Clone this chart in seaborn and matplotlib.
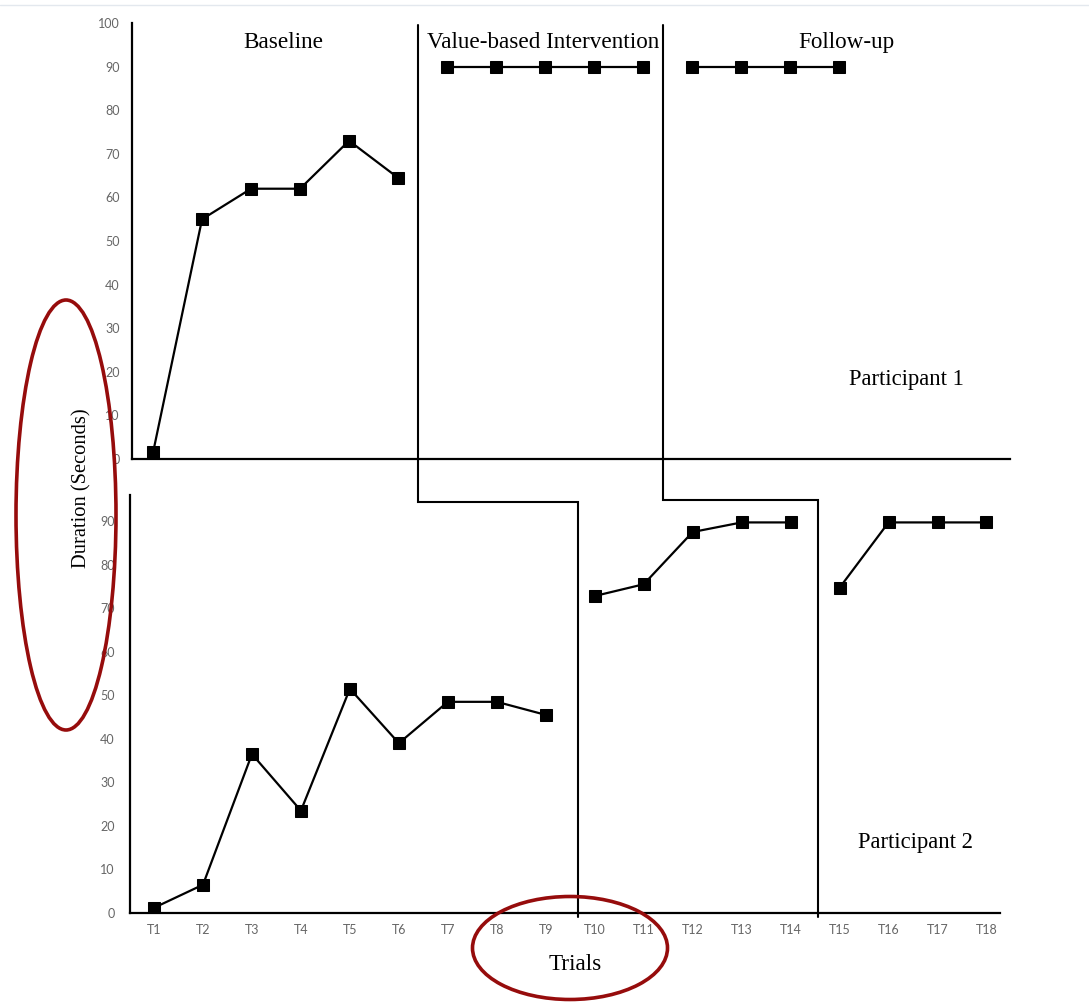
import numpy as np
import pandas as pd
import matplotlib.pyplot as plt
from matplotlib.patches import Ellipse
from matplotlib.lines import Line2D
import seaborn as sns

## data

trials = ['T1', 'T2', 'T3', 'T4', 'T5', 'T6', 'T7', 'T8', 'T9',
          'T10', 'T11', 'T12', 'T13', 'T14', 'T15', 'T16', 'T17', 'T18']

# participant 1: baseline T1-T6, intervention T7-T11, follow-up T12-T15
p1_values = [1.5, 55, 62, 62, 73, 64.5, 90, 90, 90, 90, 90, 90, 90, 90, 90]
p1_phase = ['Baseline'] * 6 + ['Intervention'] * 5 + ['Follow-up'] * 4

# participant 2: baseline T1-T9, intervention T10-T14, follow-up T15-T18
p2_values = [1.2, 6.5, 36.5, 23.5, 51.5, 39, 48.5, 48.5, 45.5,
             72.8, 75.5, 87.5, 89.7, 89.7, 74.7, 89.7, 89.7, 89.7]
p2_phase = ['Baseline'] * 9 + ['Intervention'] * 5 + ['Follow-up'] * 4

phase_names = ['Baseline', 'Value-based Intervention', 'Follow-up']

# phase change lines (in trial positions, T1 = 0)
p1_changes = [5.4, 10.4]
p2_changes = [8.65, 13.55]
step_y = [94.3, 94.9]

df1 = pd.DataFrame({'trial': np.arange(len(p1_values)), 'value': p1_values, 'phase': p1_phase})
df2 = pd.DataFrame({'trial': np.arange(len(p2_values)), 'value': p2_values, 'phase': p2_phase})

sns.set_style('white')
plt.rcParams['font.family'] = ['Liberation Serif', 'DejaVu Serif']
plt.rcParams['text.color'] = 'black'

fig = plt.figure(figsize=(10.89, 10.02), dpi=100)
ax1 = fig.add_axes([0.1212, 0.5419, 0.8063, 0.4351])
ax2 = fig.add_axes([0.1194, 0.0888, 0.7986, 0.4172])

for ax, df in [(ax1, df1), (ax2, df2)]:
    sns.lineplot(data=df, x='trial', y='value', units='phase', estimator=None,
                 color='black', lw=1.6, marker='s', markersize=8,
                 markeredgecolor='black', ax=ax, legend=False)
    ax.set_xlabel('')
    ax.set_ylabel('')
    for s in ['top', 'right']:
        ax.spines[s].set_visible(False)
    for s in ['left', 'bottom']:
        ax.spines[s].set_linewidth(1.6)
        ax.spines[s].set_color('black')
    ax.set_xticks(np.arange(len(trials)))
    ax.tick_params(axis='x', direction='out', length=3, width=1, color='black')
    ax.tick_params(axis='y', length=0)
    ax.set_facecolor('none')

ax1.set_xlim(-0.43, 17.49)
ax1.set_ylim(0, 100)
ax1.set_yticks(range(0, 101, 10))
ax1.set_xticklabels([])
ax1.tick_params(axis='y', pad=9)

ax2.set_xlim(-0.49, 17.27)
ax2.set_ylim(0, 96)
ax2.set_yticks(range(0, 91, 10))
ax2.set_xticklabels(trials)
ax2.tick_params(axis='y', pad=11)
ax2.tick_params(axis='x', pad=5)

for ax in [ax1, ax2]:
    for lab in ax.get_xticklabels() + ax.get_yticklabels():
        lab.set_family('Lato')
        lab.set_fontsize(9)
        lab.set_color('#666666')

# phase labels
ax1.text(2.65, 95.6, phase_names[0], ha='center', va='center', fontsize=16.7)
ax1.text(7.96, 95.6, phase_names[1], ha='center', va='center', fontsize=16.7)
ax1.text(14.14, 95.6, phase_names[2], ha='center', va='center', fontsize=16.7)
ax1.text(15.37, 18.3, 'Participant 1', ha='center', va='center', fontsize=16.3)
ax2.text(15.55, 16.1, 'Participant 2', ha='center', va='center', fontsize=16.3)

# step-shaped phase change lines running through both panels
for xt, xb, gy in zip(p1_changes, p2_changes, step_y):
    fx, fy = ax1.transData.transform((xt, 99.5))
    x2, y2 = ax2.transData.inverted().transform((fx, fy))
    ax2.plot([x2, x2, xb, xb], [y2, gy, gy, -1], color='black', lw=1.5,
             clip_on=False, solid_joinstyle='miter')

fig.text(82 / 1089, 1 - 488 / 1002, 'Duration (Seconds)', rotation=90,
         ha='center', va='center', fontsize=14.8)
fig.text(575 / 1089, 1 - 965 / 1002, 'Trials', ha='center', va='center', fontsize=16.7)

# red circles drawn over the figure
fig.add_artist(Ellipse((66 / 1089, 1 - 515 / 1002), 100 / 1089, 430 / 1002,
                       transform=fig.transFigure, fill=False, ec='#960c0c', lw=2.6))
fig.add_artist(Ellipse((570 / 1089, 1 - 948 / 1002), 195 / 1089, 103 / 1002,
                       transform=fig.transFigure, fill=False, ec='#960c0c', lw=2.6))

fig.add_artist(Line2D([0, 1], [1 - 5 / 1002, 1 - 5 / 1002], transform=fig.transFigure,
                      color='#e3e8ee', lw=1))

plt.savefig('out.png', dpi=100)
